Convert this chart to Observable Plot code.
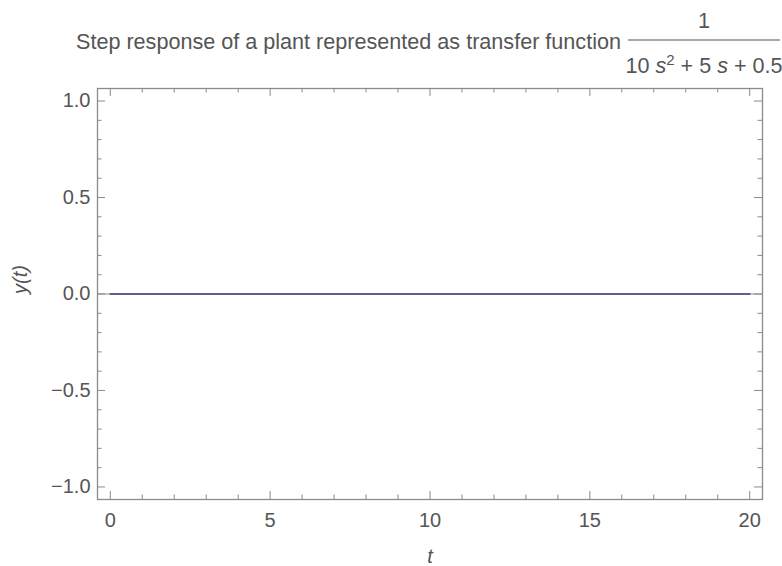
<!DOCTYPE html>
<html>
<head>
<meta charset="utf-8">
<script src="https://cdn.jsdelivr.net/npm/d3@7"></script>
<script src="https://cdn.jsdelivr.net/npm/@observablehq/plot@0.6"></script>
<style>
  html, body { margin: 0; padding: 0; background: #fff; }
</style>
</head>
<body>
<div id="chart"></div>
<script>
// Data: the step response is flat at zero
const time = [0, 5, 10, 15, 20];
const response = [0, 0, 0, 0, 0];
const xMajorTicks = [0, 5, 10, 15, 20];
const xMinorTicks = [1, 2, 3, 4, 6, 7, 8, 9, 11, 12, 13, 14, 16, 17, 18, 19];
const yMajorTicks = [-1.0, -0.5, 0.0, 0.5, 1.0];
const yMinorTicks = [-0.9, -0.8, -0.7, -0.6, -0.4, -0.3, -0.2, -0.1, 0.1, 0.2, 0.3, 0.4, 0.6, 0.7, 0.8, 0.9];
const titleText = "Step response of a plant represented as transfer function";

const data = time.map((t, i) => ({t, y: response[i]}));

const W = 782, H = 566;
const mL = 97, mR = 20, mT = 88, mB = 67;
const fw = W - mL - mR, fh = H - mT - mB;
const majLen = 8, minLen = 4.5;
const gray = "#8a8a8a";
const textColor = "#555";

const plot = Plot.plot({
  width: W,
  height: H,
  marginLeft: mL, marginRight: mR, marginTop: mT, marginBottom: mB,
  x: {domain: [-0.4, 20.4]},
  y: {domain: [-1.065, 1.065]},
  style: {fontFamily: "'Liberation Sans', Arial, sans-serif", fontSize: "20px", color: textColor, background: "#fff"},
  marks: [
    Plot.ruleY([0], {stroke: gray, strokeWidth: 1.2}),
    // inward ticks: bottom, top, left, right
    Plot.tickX(xMajorTicks, {x: d => d, insetTop: fh - majLen, stroke: gray}),
    Plot.tickX(xMinorTicks, {x: d => d, insetTop: fh - minLen, stroke: gray}),
    Plot.tickX(xMajorTicks, {x: d => d, insetBottom: fh - majLen, stroke: gray}),
    Plot.tickX(xMinorTicks, {x: d => d, insetBottom: fh - minLen, stroke: gray}),
    Plot.tickY(yMajorTicks, {y: d => d, insetRight: fw - majLen, stroke: gray}),
    Plot.tickY(yMinorTicks, {y: d => d, insetRight: fw - minLen, stroke: gray}),
    Plot.tickY(yMajorTicks, {y: d => d, insetLeft: fw - majLen, stroke: gray}),
    Plot.tickY(yMinorTicks, {y: d => d, insetLeft: fw - minLen, stroke: gray}),
    Plot.frame({stroke: gray, strokeWidth: 1.3}),
    Plot.axisX({ticks: xMajorTicks, tickSize: 0, tickPadding: 13, tickFormat: d => String(d), label: null, fill: textColor}),
    Plot.axisY({ticks: yMajorTicks, tickSize: 0, tickPadding: 7, tickFormat: d3.format(".1f"), label: null, fill: textColor}),
    Plot.line(data, {x: "t", y: "y", stroke: "#5f6090", strokeWidth: 2}),
    Plot.text(["t"], {frameAnchor: "bottom", dy: 57, lineAnchor: "middle", fontStyle: "italic", fill: textColor, text: d => d}),
    Plot.text(["y(t)"], {frameAnchor: "left", dx: -77, rotate: -90, lineAnchor: "middle", fontStyle: "italic", fill: textColor, text: d => d})
  ]
});

const svg = d3.select(plot);
const tg = svg.append("g")
  .attr("font-family", "'Liberation Sans', Arial, sans-serif")
  .attr("font-size", 21.6)
  .attr("fill", textColor)
  .attr("text-anchor", "start");
tg.append("text").attr("x", 76).attr("y", 49).attr("text-anchor", "start").text(titleText);
tg.append("line").attr("x1", 628).attr("x2", 780).attr("y1", 40).attr("y2", 40)
  .attr("stroke", textColor).attr("stroke-width", 1.2);
tg.append("text").attr("x", 704).attr("y", 28).attr("text-anchor", "middle").text("1");
const den = tg.append("text").attr("x", 704).attr("y", 73).attr("text-anchor", "middle");
den.append("tspan").text("10 ");
den.append("tspan").attr("font-style", "italic").text("s");
den.append("tspan").attr("dy", -8).attr("font-size", 15).text("2");
den.append("tspan").attr("dy", 8).text(" + 5 ");
den.append("tspan").attr("font-style", "italic").text("s");
den.append("tspan").text(" + 0.5");

document.getElementById("chart").appendChild(plot);
</script>
</body>
</html>
